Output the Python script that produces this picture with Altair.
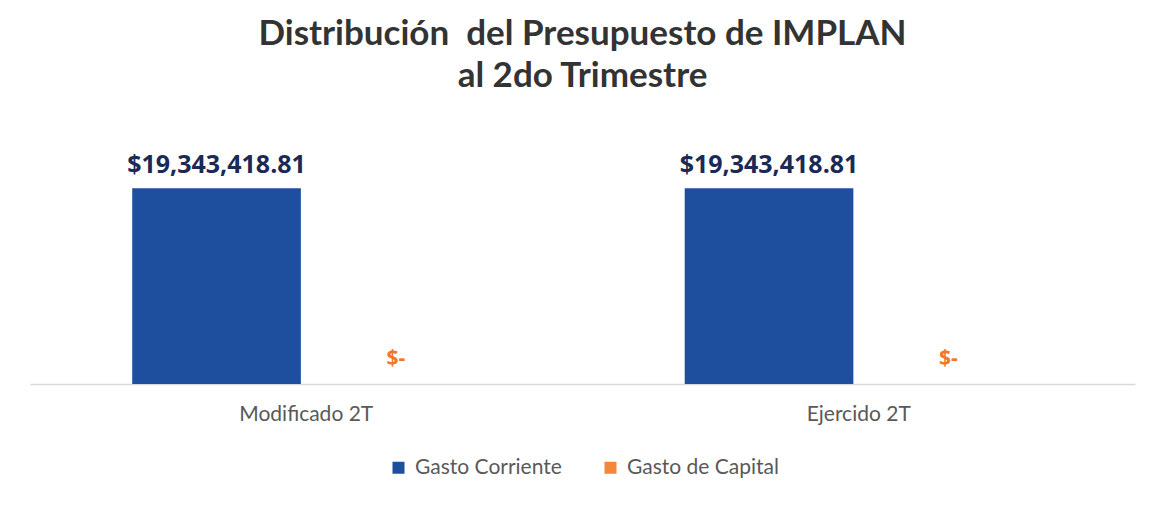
import altair as alt
import pandas as pd

categories = ["Modificado 2T", "Modificado 2T", "Ejercido 2T", "Ejercido 2T"]
series = ["Gasto Corriente", "Gasto de Capital", "Gasto Corriente", "Gasto de Capital"]
values = [19343418.81, 0.0, 19343418.81, 0.0]
labels = ["$19,343,418.81", "$-", "$19,343,418.81", "$-"]

df = pd.DataFrame({"categoria": categories, "serie": series, "valor": values, "etiqueta": labels})

cat_order = ["Modificado 2T", "Ejercido 2T"]
ser_order = ["Gasto Corriente", "Gasto de Capital"]
BLUE = "#1E4F9F"
ORANGE = "#F5873A"

x = alt.X("categoria:N", sort=cat_order, title=None,
          scale=alt.Scale(paddingInner=0.37, paddingOuter=0.185),
          axis=alt.Axis(labelAngle=0, ticks=False, domainColor="#d9d9d9", domainWidth=1.5,
                        labelFontSize=21, labelColor="#595959", labelFont="Lato", labelPadding=19))
xo = alt.XOffset("serie:N", sort=ser_order, scale=alt.Scale(paddingInner=0.06, paddingOuter=0))
y = alt.Y("valor:Q", scale=alt.Scale(domain=[0, 24000000]), axis=None)

bars = alt.Chart(df).mark_bar().encode(
    x=x, xOffset=xo, y=y,
    color=alt.Color("serie:N", sort=ser_order,
                    scale=alt.Scale(domain=ser_order, range=[BLUE, ORANGE]),
                    legend=alt.Legend(title=None, orient="none", direction="horizontal",
                                      legendX=358, legendY=316,
                                      symbolType="square", symbolSize=144, labelFontSize=21,
                                      labelColor="#595959", labelFont="Lato", columnPadding=38,
                                      labelOffset=6)),
)

lab_blue = alt.Chart(df).transform_filter(alt.datum.serie == "Gasto Corriente").mark_text(
    baseline="bottom", dy=-10, fontSize=25, fontWeight="bold", font="Open Sans", color="#1B2A55"
).encode(x=x, xOffset=xo, y=y, text="etiqueta:N")

lab_orange = alt.Chart(df).transform_filter(alt.datum.serie == "Gasto de Capital").mark_text(
    baseline="middle", dy=-25, fontSize=21, fontWeight="bold", font="Open Sans", color="#F0782A"
).encode(x=x, xOffset=xo, y=y, text="etiqueta:N")

chart = alt.layer(bars, lab_blue, lab_orange).properties(
    width=1105, height=243,
    title=alt.TitleParams(["Distribución\u00a0 del Presupuesto de IMPLAN", "al 2do Trimestre"],
                          fontSize=35, font="Lato", fontWeight="bold", color="#333333",
                          lineHeight=42, anchor="middle", offset=47),
    padding={"left": 22, "right": 10, "top": 9, "bottom": 5},
).configure_view(strokeWidth=0)

chart.save("out.html", embed_options={"renderer": "svg", "actions": False})
